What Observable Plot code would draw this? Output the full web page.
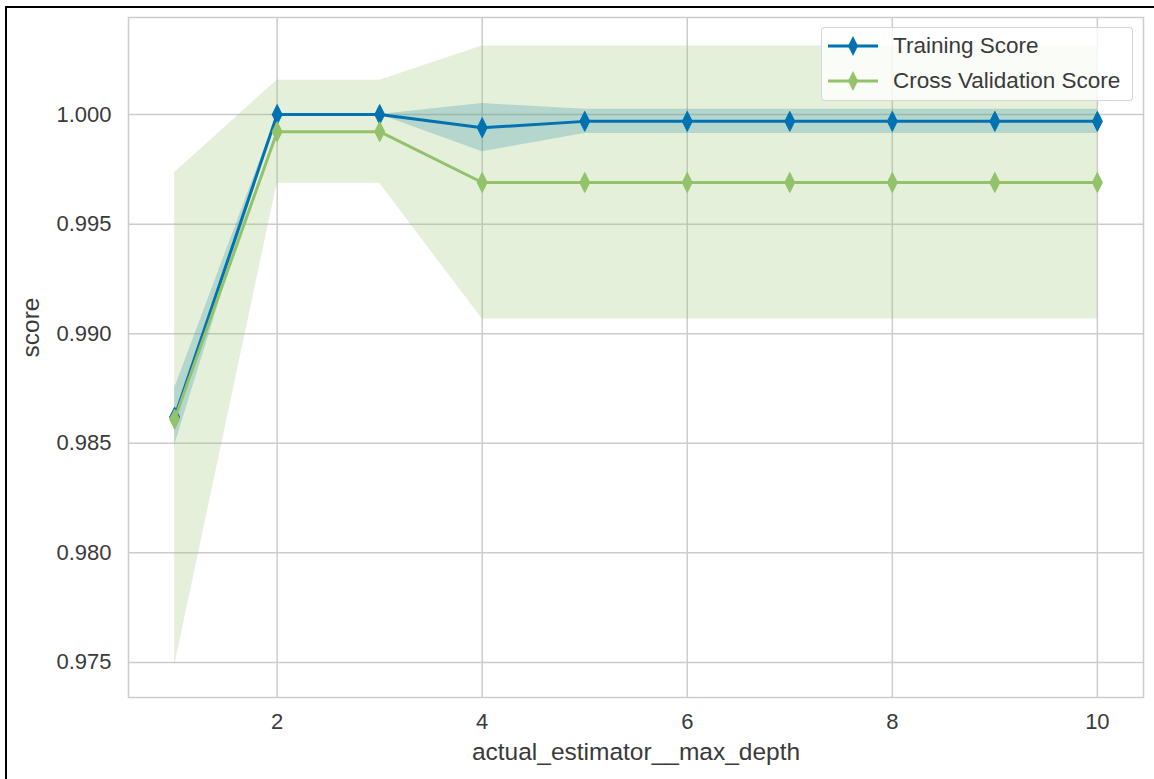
<!DOCTYPE html>
<html>
<head>
<meta charset="utf-8">
<script src="https://cdn.jsdelivr.net/npm/d3@7"></script>
<script src="https://cdn.jsdelivr.net/npm/@observablehq/plot@0.6"></script>
<style>
  html, body { margin: 0; padding: 0; background: white; }
  #wrap { position: relative; width: 1154px; height: 779px; overflow: hidden; }
  #border { position: absolute; left: 5px; top: 6px; width: 3000px; height: 3000px;
            border-left: 2px solid #000; border-top: 2px solid #000; pointer-events: none; }
  #legend { position: absolute; left: 821px; top: 27px; width: 312px; height: 74px; box-sizing: border-box;
            background: rgba(255,255,255,0.8); border: 1px solid rgba(204,204,204,0.8); border-radius: 4px;
            font-family: "Liberation Sans", Arial, sans-serif; font-size: 22.5px; color: #3a3a3a; }
  .row { position: absolute; left: 6px; height: 30px; display: flex; align-items: center; }
  .row span { margin-left: 15px; }
</style>
</head>
<body>
<div id="wrap">
  <div id="chart"></div>
  <div id="legend"></div>
  <div id="border"></div>
</div>
<script>
const depths = [1, 2, 3, 4, 5, 6, 7, 8, 9, 10];
const trainMean = [0.9862, 1.0, 1.0, 0.9994, 0.99969, 0.99969, 0.99969, 0.99969, 0.99969, 0.99969];
const trainStd = [0.0013, 0.0, 0.0, 0.0011, 0.00055, 0.00055, 0.00055, 0.00055, 0.00055, 0.00055];
const cvMean = [0.9861, 0.99922, 0.99922, 0.9969, 0.9969, 0.9969, 0.9969, 0.9969, 0.9969, 0.9969];
const cvStd = [0.01125, 0.00235, 0.00235, 0.00623, 0.00623, 0.00623, 0.00623, 0.00623, 0.00623, 0.00623];
const seriesNames = ["Training Score", "Cross Validation Score"];
const xTicks = [2, 4, 6, 8, 10];
const yTicks = [0.975, 0.980, 0.985, 0.990, 0.995, 1.000];
const xLabel = "actual_estimator__max_depth";
const yLabel = "score";

const blue = "#0072B2";
const green = "#94C26A";

const rows = depths.map((d, i) => ({
  depth: d,
  train: trainMean[i], trainLo: trainMean[i] - trainStd[i], trainHi: trainMean[i] + trainStd[i],
  cv: cvMean[i], cvLo: cvMean[i] - cvStd[i], cvHi: cvMean[i] + cvStd[i]
}));

const thinDiamond = {
  draw(ctx) {
    const h = 10, w = 5;
    ctx.moveTo(0, -h); ctx.lineTo(w, 0); ctx.lineTo(0, h); ctx.lineTo(-w, 0); ctx.closePath();
  }
};

const font = "Liberation Sans, Arial, sans-serif";
const textColor = "#3a3a3a";

const chart = Plot.plot({
  width: 1154, height: 779,
  marginLeft: 128, marginRight: 11, marginTop: 17, marginBottom: 82,
  x: {domain: [0.55, 10.45]},
  y: {domain: [0.9734, 1.00443]},
  style: {fontFamily: font, fontSize: "22px", color: textColor, background: "white"},
  marks: [
    Plot.gridX(xTicks, {stroke: "#cccccc", strokeOpacity: 1, strokeWidth: 1.5}),
    Plot.gridY(yTicks, {stroke: "#cccccc", strokeOpacity: 1, strokeWidth: 1.5}),
    Plot.areaY(rows, {x: "depth", y1: "trainLo", y2: "trainHi", fill: blue, fillOpacity: 0.25}),
    Plot.areaY(rows, {x: "depth", y1: "cvLo", y2: "cvHi", fill: green, fillOpacity: 0.25}),
    Plot.line(rows, {x: "depth", y: "train", stroke: blue, strokeWidth: 3}),
    Plot.dot(rows, {x: "depth", y: "train", fill: blue, stroke: blue, strokeWidth: 1, symbol: thinDiamond, r: 10}),
    Plot.line(rows, {x: "depth", y: "cv", stroke: green, strokeWidth: 3}),
    Plot.dot(rows, {x: "depth", y: "cv", fill: green, stroke: green, strokeWidth: 1, symbol: thinDiamond, r: 10}),
    Plot.frame({stroke: "#cccccc", strokeWidth: 1.5}),
    Plot.axisX(xTicks, {tickSize: 0, tickPadding: 16, label: null, fontSize: 22}),
    Plot.axisY(yTicks, {tickSize: 0, tickPadding: 17, tickFormat: d3.format(".3f"), label: null, fontSize: 22}),
    Plot.text([xLabel], {text: d => d, frameAnchor: "bottom", dy: 55, lineAnchor: "middle", fontSize: 24.5, fill: textColor}),
    Plot.text([yLabel], {text: d => d, frameAnchor: "left", dx: -97, rotate: -90, lineAnchor: "middle", fontSize: 24.5, fill: textColor})
  ]
});
document.getElementById("chart").appendChild(chart);

// Legend
const legend = document.getElementById("legend");
const colors = [blue, green];
seriesNames.forEach((name, i) => {
  const row = document.createElement("div");
  row.className = "row";
  row.style.top = (3 + i * 35) + "px";
  const c = colors[i];
  row.innerHTML = `<svg width="50" height="24" viewBox="0 0 50 24"><line x1="0" x2="50" y1="12" y2="12" stroke="${c}" stroke-width="3"/><path d="M25,2 L30,12 L25,22 L20,12 Z" fill="${c}"/></svg><span>${name}</span>`;
  legend.appendChild(row);
});
</script>
</body>
</html>
